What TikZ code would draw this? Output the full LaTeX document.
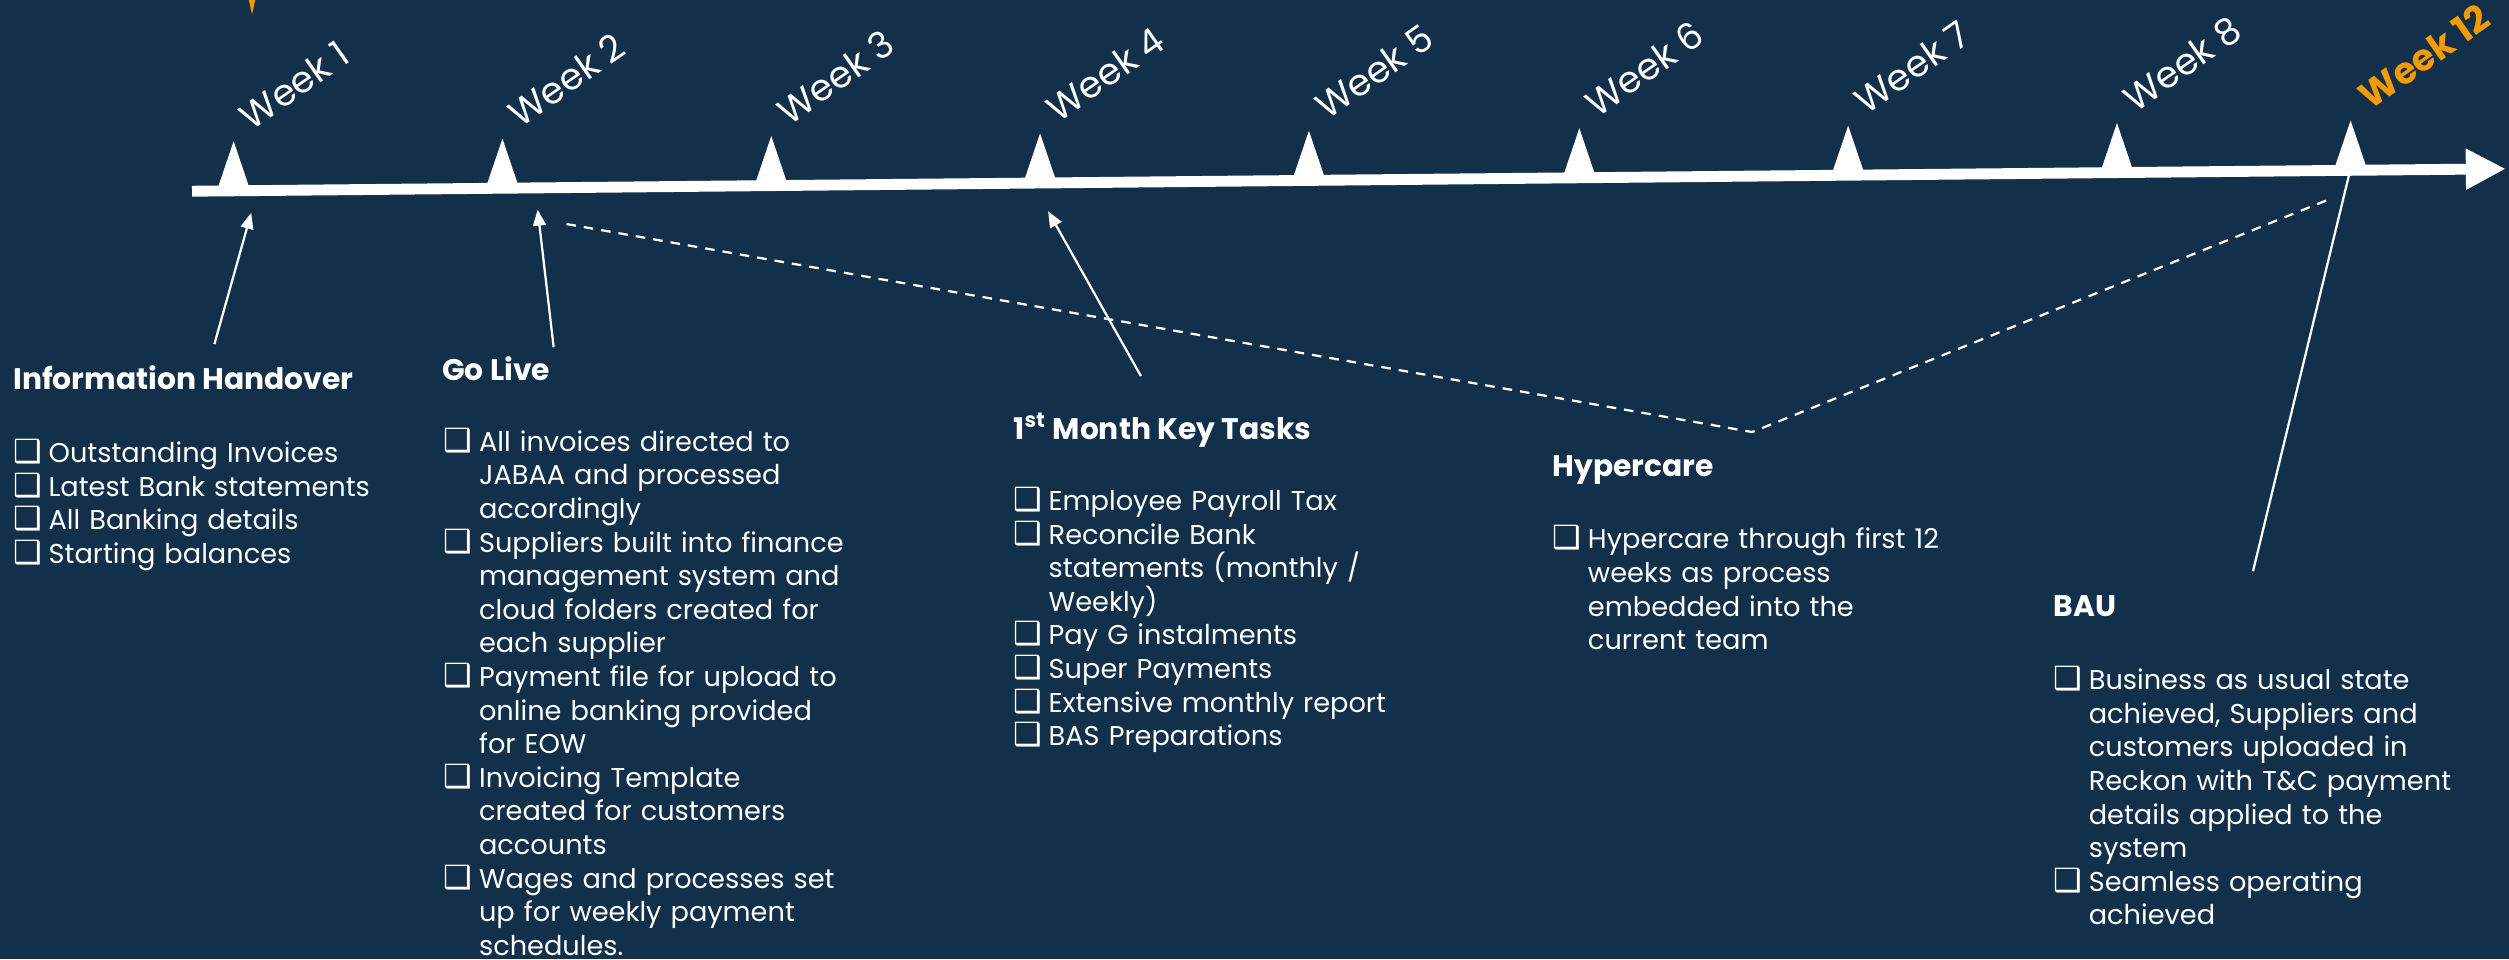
\documentclass[tikz,border=0pt]{standalone}
\usepackage{fontspec}
\setmainfont{Poppins}
\newfontfamily\boxfont{DejaVu Sans}
\usetikzlibrary{arrows.meta}
\definecolor{bgnavy}{HTML}{12304A}
\definecolor{wkorange}{HTML}{F59B00}
% one point with its box
\newcommand{\chk}[1]{\noindent\hangindent=11pt\hangafter=1\makebox[11pt][l]{\boxfont\fontsize{10}{10}\selectfont ❑}#1\par}
\begin{document}
\begin{tikzpicture}[x=0.5pt, y=-0.5pt, >={Triangle[length=5pt,width=4pt]}, line join=round,
	ttl/.style={text=white, font=\fontsize{9.3}{11}\selectfont\bfseries, inner sep=0pt, anchor=base west},
	lst/.style={text=white, font=\fontsize{8.5}{10.5}\selectfont, inner sep=0pt, anchor=base west, text width=160pt, align=left},
	wk/.style={text=white, font=\fontsize{11.5}{13}\selectfont, inner sep=0pt, anchor=base west, rotate=35},
	conn/.style={white, line width=0.7pt, ->}]
	\fill[bgnavy] (0,0) rectangle (1568,599.4);
	\useasboundingbox (0,0) rectangle (1568,599.4);
	\fill[wkorange] (155.5,0)--(159.5,0)--(157.5,9)--cycle;
	% time line
	\draw[white, line width=3.4pt, -{Triangle[length=12.5pt,width=12pt]}] (120,119.5)--(1566,105.5);
	\foreach \x/\n in {146/1,314/2,482/3,650/4,818/5,987/6,1155/7,1323/8}{
		\pgfmathsetmacro\yb{119.5-(\x-120)*0.00968}
		\fill[white] (\x-10.5,\yb)--(\x,\yb-31)--(\x+10.5,\yb)--cycle;
		\node[wk] (wk\n) at (\x+11,\yb-37) {Week \n};
	}
	\fill[white] (1458.5,106.3)--(1469,75.3)--(1479.5,106.3)--cycle;
	\node[wk, text=wkorange, font=\fontsize{11.5}{13}\selectfont\bfseries] (wk12) at (1481,69.3) {Week 12};
	% titles and points
	\node[ttl] (ih) at (8,243.5) {Information Handover};
	\node[lst] (ihl) at (8,289) {\chk{Outstanding Invoices} \chk{Latest Bank statements} \chk{All Banking details} \chk{Starting balances}};
	\node[ttl] (gl) at (276,237.5) {Go Live};
	\node[lst] (gll) at (277,282) {\chk{All invoices directed to\newline JABAA and processed\newline accordingly}
		\chk{Suppliers built into finance\newline management system and\newline cloud folders created for\newline each supplier}
		\chk{Payment file for upload to\newline online banking provided\newline for EOW}
		\chk{Invoicing Template\newline created for customers\newline accounts}
		\chk{Wages and processes set\newline up for weekly payment\newline schedules.}};
	\node[ttl] (mk) at (633,274.5) {1\textsuperscript{st} Month Key Tasks};
	\node[lst] (mkl) at (633,319) {\chk{Employee Payroll Tax} \chk{Reconcile Bank\newline statements (monthly /\newline Weekly)}
		\chk{Pay G instalments} \chk{Super Payments} \chk{Extensive monthly report} \chk{BAS Preparations}};
	\node[ttl] (hc) at (970,297.5) {Hypercare};
	\node[lst] (hcl) at (970,343) {\chk{Hypercare through first 12\newline weeks as process\newline embedded into the\newline current team}};
	\node[ttl] (bau) at (1283,385.5) {BAU};
	\node[lst] (baul) at (1283,431) {\chk{Business as usual state\newline achieved, Suppliers and\newline customers uploaded in\newline Reckon with T\&C payment\newline details applied to the\newline system}
		\chk{Seamless operating\newline achieved}};
	% pointers to the weeks
	\coordinate (ihs) at (134,215); \coordinate (ihe) at (157,133);
	\coordinate (gls) at (346,217); \coordinate (gle) at (336,131);
	\coordinate (mks) at (713,235); \coordinate (mke) at (655,132);
	\coordinate (baus) at (1408,357); \coordinate (baue) at (1471,97);
	\draw[conn] (ihs)--(ihe);
	\draw[conn] (gls)--(gle);
	\draw[conn] (mks)--(mke);
	\draw[conn] (baus)--(baue);
	\coordinate (hc1) at (354,140); \coordinate (hc2) at (1095,270); \coordinate (hc3) at (1457,124);
	\draw[white, line width=0.7pt, dash pattern=on 3pt off 2.5pt] (hc1)--(hc2)--(hc3);
\end{tikzpicture}
\end{document}
